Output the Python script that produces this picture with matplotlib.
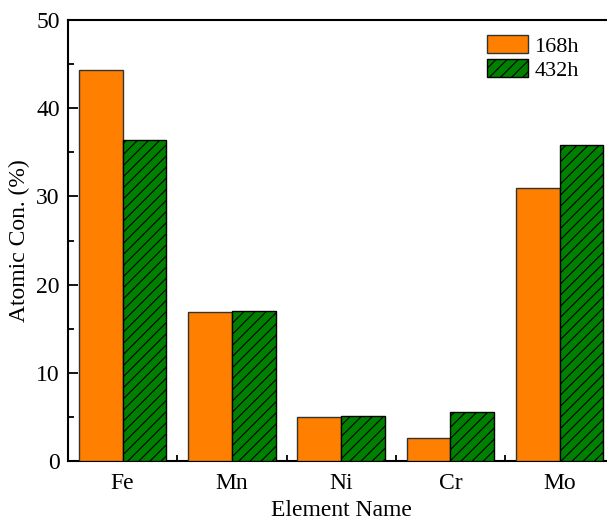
import numpy as np
import matplotlib.pyplot as plt
from matplotlib.ticker import MultipleLocator, FixedLocator

plt.rcParams['font.family'] = ['Liberation Serif', 'DejaVu Serif']
plt.rcParams['hatch.linewidth'] = 0.8

elements = ['Fe', 'Mn', 'Ni', 'Cr', 'Mo']
conc_168h = [44.3, 16.9, 5.0, 2.6, 31.0]
conc_432h = [36.4, 17.0, 5.1, 5.6, 35.8]

x = np.arange(1, len(elements) + 1)
w = 0.4

fig = plt.figure(figsize=(6.07, 5.2), dpi=100)
ax = fig.add_axes([0.112, 0.1135, 0.9, 0.848])

ax.bar(x - w / 2, conc_168h, w, color='#ff8000', edgecolor='#333333', linewidth=1.0, label='168h', zorder=3)
ax.bar(x + w / 2, conc_432h, w, color='#008000', edgecolor='black', linewidth=1.0, hatch='///', label='432h', zorder=3)

ax.set_xlim(0.5, 5.5)
ax.set_ylim(0, 50)
ax.set_xticks(x)
ax.set_xticklabels(elements)
ax.xaxis.set_minor_locator(FixedLocator([1.5, 2.5, 3.5, 4.5]))
ax.yaxis.set_major_locator(MultipleLocator(10))
ax.yaxis.set_minor_locator(MultipleLocator(5))

ax.tick_params(axis='both', which='major', direction='in', length=7, width=1.3, labelsize=17, pad=9)
ax.tick_params(axis='both', which='minor', direction='in', length=4, width=1.3)
ax.tick_params(axis='y', which='major', pad=6)
for s in ax.spines.values():
    s.set_linewidth(1.5)

ax.set_xlabel('Element Name', fontsize=17, labelpad=4)
ax.set_ylabel('Atomic Con. (%)', fontsize=17, labelpad=4)

ax.legend(loc='upper left', bbox_to_anchor=(0.73, 1.012), frameon=False, fontsize=16,
          handlelength=1.85, handleheight=0.9, handletextpad=0.3, labelspacing=0.1,
          borderpad=0.4)

fig.savefig('out.png', dpi=100)
